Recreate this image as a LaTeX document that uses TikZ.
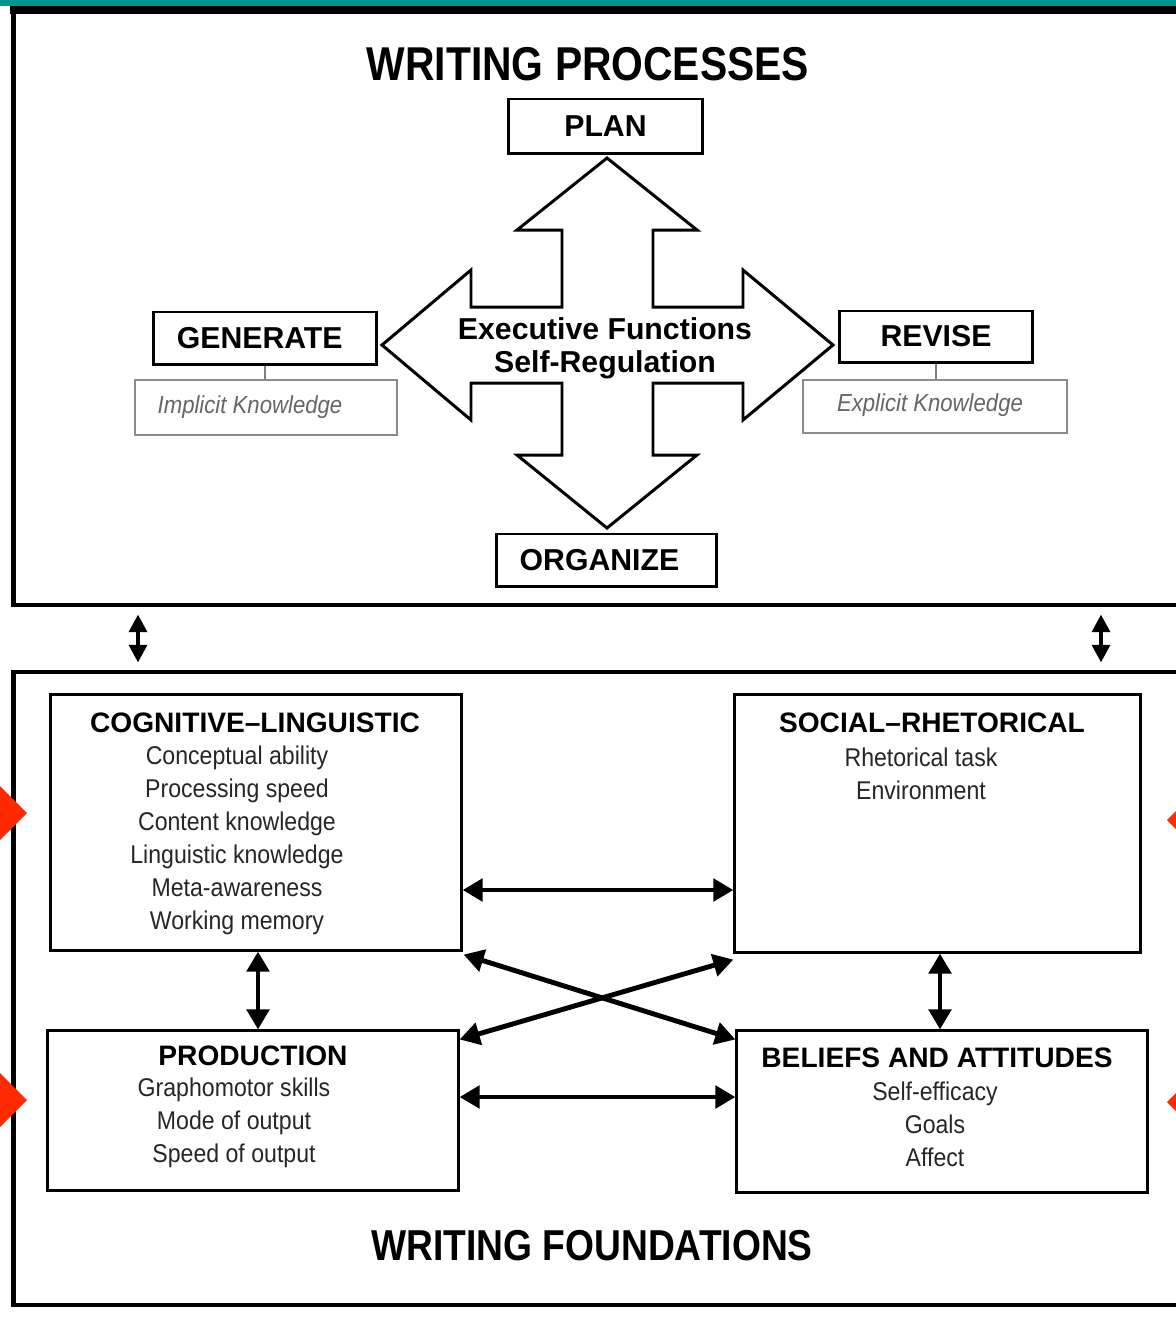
\documentclass[tikz,border=0pt]{standalone}
\usepackage{fontspec}
\setmainfont{Liberation Sans}
\newfontfamily\hcond[FakeStretch=0.86]{Liberation Sans}
\newfontfamily\bcond[FakeStretch=0.9]{Liberation Sans}
\usetikzlibrary{arrows.meta,calc}
\definecolor{tealbar}{HTML}{00958F}
\definecolor{redtri}{HTML}{FF2A00}
\begin{document}
\begin{tikzpicture}[x=0.01cm,y=-0.01cm,
  frame/.style={draw, line width=1.3pt, inner sep=0pt},
  cbox/.style={draw, line width=0.85pt, inner sep=0pt},
  kbox/.style={draw=black!45, line width=0.45pt, inner sep=0pt},
  headtxt/.style={font=\hcond\bfseries\fontsize{13.5}{16}\selectfont, inner sep=0pt},
  ptitle/.style={font=\bfseries\fontsize{8.6}{10}\selectfont},
  btitle/.style={font=\bfseries\fontsize{8}{10}\selectfont, inner sep=0pt},
  bodytxt/.style={font=\bcond\fontsize{7.3}{9.39}\selectfont, align=center, text=black!85, inner sep=0pt},
  knowtxt/.style={font=\bcond\itshape\fontsize{7}{8}\selectfont, text=black!60, inner sep=0pt},
  dbl/.style={line width=1.4pt, {Triangle[length=5.7pt,width=6.3pt]}-{Triangle[length=5.7pt,width=6.3pt]}},
  vdbl/.style={line width=1.2pt, {Triangle[length=5pt,width=5pt]}-{Triangle[length=5pt,width=5pt]}},
  link/.style={draw=black!50, line width=0.4pt}
]
\useasboundingbox (0,0) rectangle (1176,1335);
\fill[white] (0,0) rectangle (1176,1335);

% top bar
\fill[tealbar] (0,0) rectangle (1176,6);
\draw[line width=2.4pt] (10,10) -- (1176,10);

% outer frames
\node[frame, minimum width=11.66cm, minimum height=5.94cm] (procbox) at (597,308) {};
\node[frame, minimum width=11.66cm, minimum height=6.33cm] (foundbox) at (597,988.5) {};

% headings
\node[headtxt] (hproc) at (588,64) {WRITING PROCESSES};
\node[headtxt, font=\hcond\bfseries\fontsize{12.3}{15}\selectfont] (hfound) at (592,1246) {WRITING FOUNDATIONS};

% four-way arrow
\draw[line width=0.85pt, fill=white, line join=miter]
  (607,158) -- (697,230) -- (653,230) -- (653,307) -- (743,307) -- (743,270)
  -- (833,345) -- (743,420) -- (743,383) -- (653,383) -- (653,455) -- (697,455)
  -- (607,528) -- (517,455) -- (562,455) -- (562,383) -- (471,383) -- (471,420)
  -- (382,345) -- (471,270) -- (471,307) -- (562,307) -- (562,230) -- (517,230) -- cycle;
\node[font=\bfseries\fontsize{8.6}{9.4}\selectfont, align=center, inner sep=0pt] (exec) at (605,348.5)
  {Executive Functions\\Self-Regulation};

% process boxes
\node[cbox, ptitle, minimum width=1.93cm, minimum height=0.54cm] (plan) at (605.5,126) {PLAN};
\node[cbox, ptitle, minimum width=2.22cm, minimum height=0.52cm] (gen) at (265,338) {\hspace*{-3pt}GENERATE};
\node[cbox, ptitle, minimum width=1.92cm, minimum height=0.51cm] (rev) at (936,336.5) {REVISE};
\node[cbox, ptitle, minimum width=2.19cm, minimum height=0.52cm] (org) at (606.5,560) {\hspace*{-4pt}ORGANIZE};

\node[kbox, minimum width=2.62cm, minimum height=0.55cm] (impl) at (266,407.5) {};
\node[knowtxt] (implT) at (250,407) {Implicit Knowledge};
\node[kbox, minimum width=2.64cm, minimum height=0.53cm] (expl) at (935,406.5) {};
\node[knowtxt] (explT) at (930,405) {Explicit Knowledge};
\draw[link] (gen.south) -- (gen.south |- impl.north);
\draw[link] (rev.south) -- (rev.south |- expl.north);

% foundation boxes
\node[cbox, minimum width=4.10cm, minimum height=2.55cm] (cl) at (256,822.5) {};
\node[cbox, minimum width=4.05cm, minimum height=2.57cm] (sr) at (937.5,823.5) {};
\node[cbox, minimum width=4.10cm, minimum height=1.59cm] (prod) at (253,1110.5) {};
\node[cbox, minimum width=4.10cm, minimum height=1.61cm] (ba) at (942,1111.5) {};

\node[btitle] (clT) at (255,723) {COGNITIVE–LINGUISTIC};
\node[bodytxt] (clB) at (237,840) {Conceptual ability\\Processing speed\\Content knowledge\\Linguistic knowledge\\Meta-awareness\\Working memory};
\node[btitle] (srT) at (932,723) {SOCIAL–RHETORICAL};
\node[bodytxt] (srB) at (921,774) {Rhetorical task\\Environment};
\node[btitle] (prT) at (253,1056) {PRODUCTION};
\node[bodytxt] (prB) at (234,1122.5) {Graphomotor skills\\Mode of output\\Speed of output};
\node[btitle] (baT) at (937,1058) {BELIEFS AND ATTITUDES};
\node[bodytxt] (baB) at (935,1124.5) {Self-efficacy\\Goals\\Affect};

% connectors
\coordinate (yA) at (0,890);
\coordinate (yB) at (0,1097);
\coordinate (xA) at (258,0);
\coordinate (xB) at (940,0);
\coordinate (xL) at (138,0);
\coordinate (xR) at (1101,0);

\draw[vdbl, shorten <=2pt, shorten >=2pt] (procbox.south -| xL) -- (foundbox.north -| xL);
\draw[vdbl, shorten <=2pt, shorten >=2pt] (procbox.south -| xR) -- (foundbox.north -| xR);

\draw[dbl] (cl.east |- yA) -- (sr.west |- yA);
\draw[dbl] (prod.east |- yB) -- (ba.west |- yB);
\draw[dbl] (cl.south -| xA) -- (prod.north -| xA);
\draw[dbl] (sr.south -| xB) -- (ba.north -| xB);
\draw[dbl] ($(cl.south east)+(1,3)$) -- ($(ba.north west)+(0,10)$);
\draw[dbl] ($(prod.north east)+(0,10)$) -- ($(sr.south west)+(0,6)$);

% red markers
\fill[redtri] (0,786) -- (27,813) -- (0,840) -- cycle;
\fill[redtri] (0,1073) -- (27,1100) -- (0,1127) -- cycle;
\fill[redtri] (1176,811) -- (1167,820) -- (1176,829) -- cycle;
\fill[redtri] (1176,1093) -- (1167,1102) -- (1176,1111) -- cycle;
\end{tikzpicture}
\end{document}
